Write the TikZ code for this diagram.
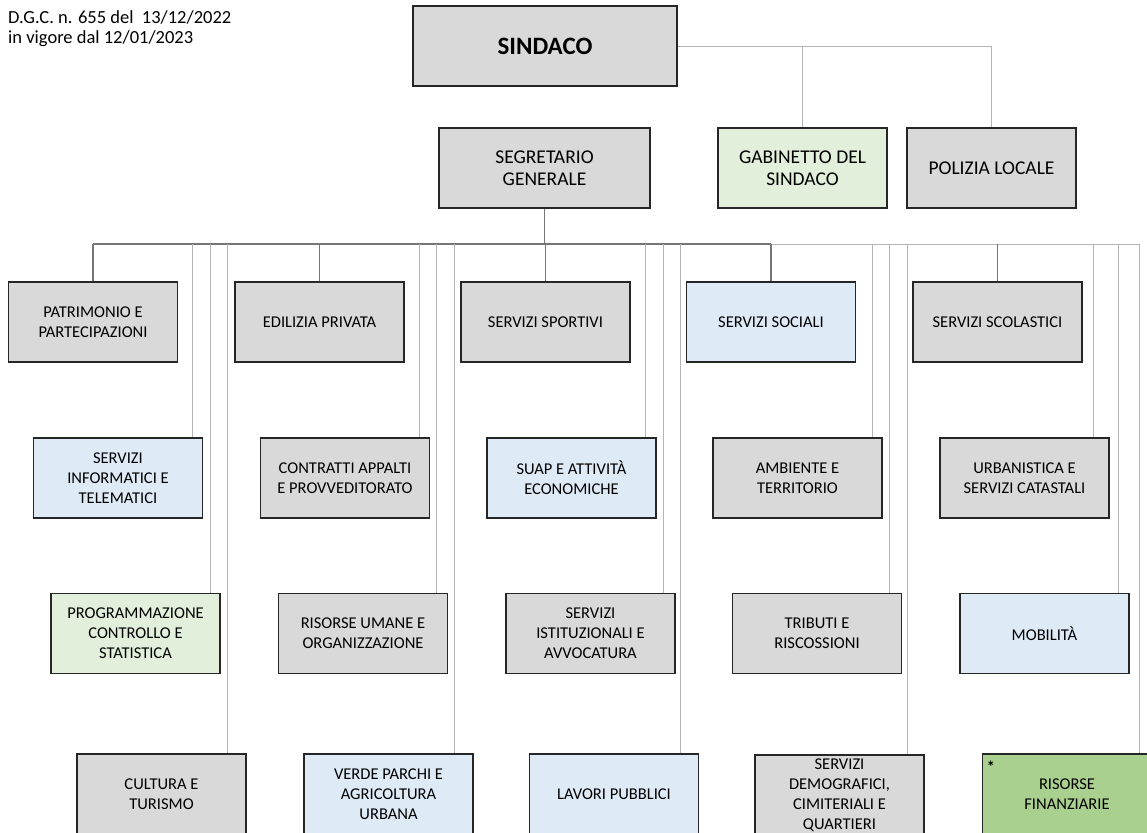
\documentclass[tikz,border=0pt]{standalone}
\usepackage{fontspec}
\setmainfont{Carlito}
\usepackage{tikz}
\definecolor{boxgray}{HTML}{D9D9D9}
\definecolor{boxblue}{HTML}{DEEBF7}
\definecolor{boxgreen}{HTML}{E2EFDA}
\definecolor{boxleaf}{HTML}{A9D08E}
\definecolor{linkdark}{HTML}{767676}
\definecolor{linklight}{HTML}{B4B4B4}
\tikzset{%
  unit/.style      = {shape=rectangle, draw=black!85, line width=1.5pt,%
                      fill=boxgray, align=center, inner sep=1pt,%
                      minimum width=169pt, minimum height=80pt,%
                      font=\fontsize{16.5}{20}\selectfont},%
  headunit/.style  = {unit, font=\fontsize{19.5}{22}\selectfont},%
  blueunit/.style  = {unit, fill=boxblue},%
  greenunit/.style = {unit, fill=boxgreen},%
  leafunit/.style  = {unit, fill=boxleaf},%
  link/.style      = {draw=linkdark, line width=1.1pt},%
  sidelink/.style  = {draw=linklight, line width=0.9pt}%
}

\begin{document}
\begin{tikzpicture}[x=1pt,y=-1pt]
	\useasboundingbox (0,0) rectangle (1147,832);
	\node[anchor=base west,inner sep=0pt,font=\fontsize{18.5}{21}\selectfont] (dgc) at (8,24) {D.G.C. n. 655 del\ \ 13/12/2022};
	\node[anchor=base west,inner sep=0pt,font=\fontsize{18.5}{21}\selectfont] (vigore) at (8,44) {in vigore dal 12/01/2023};
	% vertice
	\node[unit,minimum width=264pt,font=\fontsize{25}{30}\selectfont\bfseries] (sindaco) at (545,46) {SINDACO};
	\node[headunit,minimum width=211pt] (segretario) at (544.5,168) {SEGRETARIO\\GENERALE};
	\node[headunit,fill=boxgreen] (gabinetto) at (802.5,168) {GABINETTO DEL\\SINDACO};
	\node[headunit] (polizia) at (991.5,168) {POLIZIA LOCALE};
	\draw[sidelink] (sindaco.east) -| (polizia.north);
	\draw[sidelink] (sindaco.east -| gabinetto.north) -- (gabinetto.north);
	% prima fila
	\node[unit] (patrimonio) at (93,322) {PATRIMONIO E\\PARTECIPAZIONI};
	\node[unit] (edilizia) at (319.5,322) {EDILIZIA PRIVATA};
	\node[unit] (sportivi) at (545.5,322) {SERVIZI SPORTIVI};
	\node[blueunit] (sociali) at (771,322) {SERVIZI SOCIALI};
	\node[unit] (scolastici) at (997.5,322) {SERVIZI SCOLASTICI};
	% seconda fila
	\node[blueunit] (informatici) at (118,478) {SERVIZI\\INFORMATICI E\\TELEMATICI};
	\node[unit] (contratti) at (345,478) {CONTRATTI APPALTI\\E PROVVEDITORATO};
	\node[blueunit] (suap) at (571.5,478) {SUAP E ATTIVITÀ\\ECONOMICHE};
	\node[unit] (ambiente) at (797.5,478) {AMBIENTE E\\TERRITORIO};
	\node[unit] (urbanistica) at (1024.5,478) {URBANISTICA E\\SERVIZI CATASTALI};
	% terza fila
	\node[greenunit] (programmazione) at (135.5,633.5) {PROGRAMMAZIONE\\CONTROLLO E\\STATISTICA};
	\node[unit] (personale) at (363,633.5) {RISORSE UMANE E\\ORGANIZZAZIONE};
	\node[unit] (istituzionali) at (590.5,633.5) {SERVIZI\\ISTITUZIONALI E\\AVVOCATURA};
	\node[unit] (tributi) at (817,633.5) {TRIBUTI E\\RISCOSSIONI};
	\node[blueunit] (mobilita) at (1044.5,633.5) {MOBILITÀ};
	% quarta fila
	\node[unit] (cultura) at (161.5,794) {CULTURA E\\TURISMO};
	\node[blueunit] (verde) at (388.5,794) {VERDE PARCHI E\\AGRICOLTURA\\URBANA};
	\node[blueunit] (lavori) at (614,794) {LAVORI PUBBLICI};
	\node[unit,inner sep=0pt] (demografici) at (839.5,795) {SERVIZI\\DEMOGRAFICI,\\CIMITERIALI E\\QUARTIERI};
	\node[leafunit] (finanziarie) at (1067,794) {RISORSE\\FINANZIARIE};
	\node[anchor=north west,inner sep=0pt,font=\fontsize{16}{16}\selectfont\bfseries] (asterisco) at ([shift={(5,8)}]finanziarie.north west) {*};
	% collegamenti
	\coordinate (busleft) at (93,244);
	\coordinate (busmid) at (771,244);
	\coordinate (busright) at (1139,244);
	\draw[link] (segretario.south) -- (segretario.south |- busleft);
	\draw[link] (busleft) -- (busmid);
	\draw[sidelink] (busmid) -- (busright);
	\foreach \n in {patrimonio,edilizia,sportivi,sociali,scolastici}
		\draw[link] (\n.north |- busleft) -- (\n.north);
	\foreach \n/\x in {informatici/192,programmazione/210,cultura/227,%
		contratti/419,personale/436.5,verde/454,%
		suap/645,istituzionali/663,lavori/680,%
		ambiente/872,tributi/889.5,demografici/907,%
		urbanistica/1093,mobilita/1118,finanziarie/1139}{
		\coordinate (top-\n) at (\x,244);
		\draw[sidelink] (top-\n) -- (top-\n |- \n.north);
	}
\end{tikzpicture}
\end{document}
